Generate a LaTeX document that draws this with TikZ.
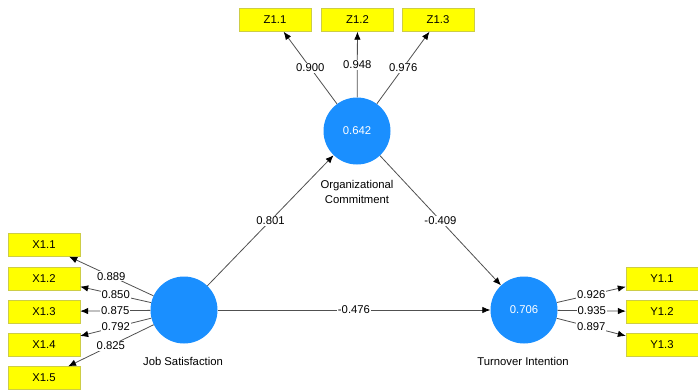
\documentclass[tikz,border=0pt]{standalone}
\usepackage{fontspec}
\setmainfont{Liberation Sans}
\usetikzlibrary{arrows.meta}
\definecolor{lvblue}{RGB}{26,143,255}
\definecolor{mvyellow}{RGB}{255,255,0}
\definecolor{mvborder}{RGB}{205,205,70}
\definecolor{linkgray}{RGB}{80,80,80}

\begin{document}
\begin{tikzpicture}[x=1pt,y=-1pt,font=\fontsize{11.3}{15}\selectfont]
        \tikzstyle{latent}=[circle,fill=lvblue,minimum size=67pt,inner sep=0pt,text=white]
        \tikzstyle{indicator}=[rectangle,draw=mvborder,fill=mvyellow,minimum width=72pt,minimum height=23pt,inner sep=0pt]
        \tikzstyle{link}=[draw=linkgray,line width=0.8pt,-{Latex[length=8pt,width=6.5pt,color=black]}]
        \tikzstyle{coef}=[fill=white,inner sep=1pt]
        \useasboundingbox (0,0) rectangle (698,389);
        % constructs
        \node[latent] (JobSat) at (184,310) {};
        \node[latent] (OrgCom) at (357,131) {0.642};
        \node[latent] (TurnInt) at (524,310) {0.706};
        \node (JobSatName) at (183,361) {Job Satisfaction};
        \node[align=center] (OrgComName) at (357,192) {Organizational\\Commitment};
        \node (TurnIntName) at (523,361) {Turnover Intention};
        % indicators
        \foreach \i/\y in {1/245,2/278.5,3/311.5,4/345,5/378}
            \node[indicator] (X\i) at (44,\y) {X1.\i};
        \foreach \i/\x in {1/275,2/357.5,3/438}
            \node[indicator] (Z\i) at (\x,20) {Z1.\i};
        \foreach \i/\y in {1/278.5,2/311.5,3/345}
            \node[indicator] (Y\i) at (662,\y) {Y1.\i};
        % loadings
        \foreach \i/\v in {1/0.889,2/0.850,3/0.875,4/0.792,5/0.825}
            \draw[link] (JobSat) -- node[coef] {\v} (X\i);
        \foreach \i/\v in {1/0.900,2/0.948,3/0.976}
            \draw[link] (OrgCom) -- node[coef] {\v} (Z\i);
        \foreach \i/\v in {1/0.926,2/0.935,3/0.897}
            \draw[link] (TurnInt) -- node[coef] {\v} (Y\i);
        % paths
        \draw[link] (JobSat) -- node[coef] {0.801} (OrgCom);
        \draw[link] (OrgCom) -- node[coef] {-0.409} (TurnInt);
        \draw[link] (JobSat) -- node[coef] {-0.476} (TurnInt);
    \end{tikzpicture}
\end{document}
